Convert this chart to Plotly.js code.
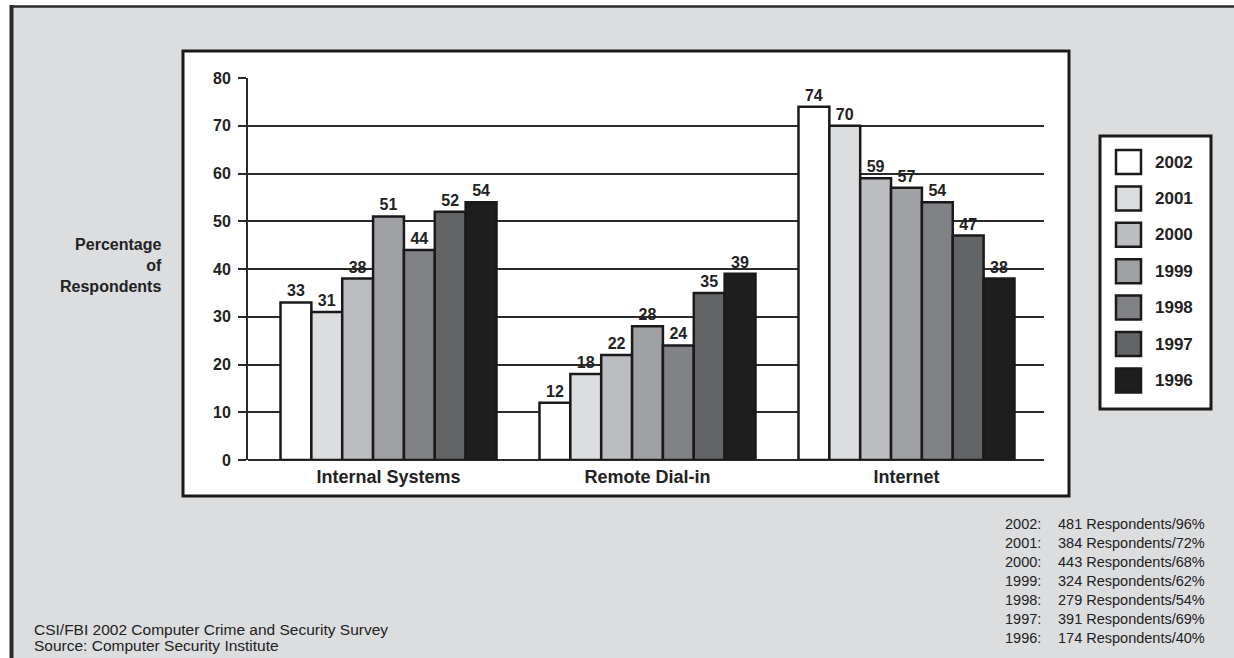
<!DOCTYPE html>
<html>
<head>
<meta charset="utf-8">
<script src="https://cdn.plot.ly/plotly-3.0.1.min.js"></script>
<style>
  html, body { margin: 0; padding: 0; background: #ffffff; }
  #chart { width: 1234px; height: 658px; }
</style>
</head>
<body>
<div id="chart"></div>
<script>
// Attack sources reported in the CSI/FBI survey, by year (percentage of respondents)
const categories = ['Internal Systems', 'Remote Dial-in', 'Internet'];
const years = ['2002', '2001', '2000', '1999', '1998', '1997', '1996'];
const values2002 = [33, 12, 74];
const values2001 = [31, 18, 70];
const values2000 = [38, 22, 59];
const values1999 = [51, 28, 57];
const values1998 = [44, 24, 54];
const values1997 = [52, 35, 47];
const values1996 = [54, 39, 38];
const seriesValues = [values2002, values2001, values2000, values1999, values1998, values1997, values1996];
const yearColors = ['#ffffff', '#dcdddf', '#bcbdc0', '#a0a1a4', '#818285', '#636466', '#1e1e1e'];
const yTicks = [0, 10, 20, 30, 40, 50, 60, 70, 80];

// Respondent counts per survey year
const respondentYears = ['2002:', '2001:', '2000:', '1999:', '1998:', '1997:', '1996:'];
const respondentCounts = [481, 384, 443, 324, 279, 391, 174];
const respondentShares = ['96%', '72%', '68%', '62%', '54%', '69%', '40%'];

const FONT = 'Liberation Sans, Arial, Helvetica, sans-serif';
const INK = '#222222';
const LINE = '#2a2a2a';

// Plot-area geometry in page pixels, used to place framing shapes in paper space
const W = 1234, H = 658;
const M = { l: 248, r: 190, t: 78, b: 198 };
const PW = W - M.l - M.r, PH = H - M.t - M.b;
const px = v => (v - M.l) / PW;
const py = v => (H - M.b - v) / PH;

const traces = years.map((yr, i) => ({
  type: 'bar',
  name: yr,
  x: categories,
  y: seriesValues[i],
  marker: { color: yearColors[i], line: { color: '#1a1a1a', width: 2.5 } },
  texttemplate: '%{y}',
  textposition: 'outside',
  constraintext: 'none',
  cliponaxis: false,
  textfont: { family: FONT, size: 16, color: INK, weight: 'bold' },
  hoverinfo: 'x+y+name'
}));

const shapes = [
  // grey page background with dark left/top frame
  { type: 'rect', xref: 'paper', yref: 'paper', layer: 'below',
    x0: px(10), x1: px(1250), y0: py(6), y1: py(680),
    fillcolor: '#dcdddf', line: { width: 0 } },
  { type: 'line', xref: 'paper', yref: 'paper', layer: 'below',
    x0: px(11.5), x1: px(11.5), y0: py(5), y1: py(680),
    line: { color: LINE, width: 4 } },
  { type: 'line', xref: 'paper', yref: 'paper', layer: 'below',
    x0: px(10), x1: px(1250), y0: py(6.5), y1: py(6.5),
    line: { color: LINE, width: 2.5 } },
  // white chart panel
  { type: 'rect', xref: 'paper', yref: 'paper', layer: 'below',
    x0: px(183), x1: px(1069), y0: py(51), y1: py(496),
    fillcolor: '#ffffff', line: { color: '#1a1a1a', width: 3 } },
  // legend box
  { type: 'rect', xref: 'paper', yref: 'paper', layer: 'below',
    x0: px(1100), x1: px(1211), y0: py(136), y1: py(409),
    fillcolor: '#ffffff', line: { color: '#1a1a1a', width: 3 } }
];

const annotations = [];

// legend swatches and labels
years.forEach((yr, i) => {
  const cy = 162 + i * 36.4;
  shapes.push({
    type: 'rect', xref: 'paper', yref: 'paper', layer: 'below',
    x0: px(1116), x1: px(1141), y0: py(cy - 12), y1: py(cy + 12),
    fillcolor: yearColors[i], line: { color: '#1a1a1a', width: 2.5 }
  });
  annotations.push({
    xref: 'paper', yref: 'paper', x: px(1153), y: py(cy),
    xanchor: 'left', yanchor: 'middle', showarrow: false,
    text: yr, font: { family: FONT, size: 17, color: INK, weight: 'bold' }
  });
});

// y-axis title, right aligned beside the panel
annotations.push({
  xref: 'paper', yref: 'paper', x: px(164), y: py(265),
  xanchor: 'right', yanchor: 'middle', align: 'right', showarrow: false,
  text: 'Percentage<br>of<br>Respondents',
  font: { family: FONT, size: 16, color: INK, weight: 'bold' }
});

// respondent notes
respondentYears.forEach((yr, i) => {
  const cy = 524 + i * 19;
  annotations.push({
    xref: 'paper', yref: 'paper', x: px(1003), y: py(cy),
    xanchor: 'left', yanchor: 'middle', showarrow: false,
    text: yr, font: { family: FONT, size: 14.5, color: INK }
  });
  annotations.push({
    xref: 'paper', yref: 'paper', x: px(1056), y: py(cy),
    xanchor: 'left', yanchor: 'middle', showarrow: false,
    text: respondentCounts[i] + ' Respondents/' + respondentShares[i],
    font: { family: FONT, size: 14.5, color: INK }
  });
});

// source footer
annotations.push({
  xref: 'paper', yref: 'paper', x: px(32), y: py(629),
  xanchor: 'left', yanchor: 'middle', showarrow: false,
  text: 'CSI/FBI 2002 Computer Crime and Security Survey',
  font: { family: FONT, size: 15.5, color: INK }
});
annotations.push({
  xref: 'paper', yref: 'paper', x: px(32), y: py(645),
  xanchor: 'left', yanchor: 'middle', showarrow: false,
  text: 'Source: Computer Security Institute',
  font: { family: FONT, size: 15.5, color: INK }
});

const layout = {
  width: W, height: H,
  margin: M,
  paper_bgcolor: '#ffffff',
  plot_bgcolor: 'rgba(0,0,0,0)',
  showlegend: false,
  barmode: 'group',
  bargap: 0.166,
  bargroupgap: 0,
  font: { family: FONT, color: INK },
  xaxis: {
    type: 'category',
    range: [-0.5425, 2.531],
    showgrid: false, zeroline: false, showline: false,
    ticks: '',
    ticklabelstandoff: 4,
    tickfont: { family: FONT, size: 18, color: INK, weight: 'bold' },
    fixedrange: true
  },
  yaxis: {
    range: [0, 80],
    tickmode: 'array', tickvals: yTicks, ticktext: yTicks.map(String),
    ticks: 'outside', ticklen: 8, tickwidth: 2, tickcolor: LINE,
    showgrid: true, gridcolor: LINE, gridwidth: 2,
    zeroline: true, zerolinecolor: LINE, zerolinewidth: 2.5,
    showline: true, linecolor: LINE, linewidth: 2,
    ticklabelstandoff: 4,
    tickfont: { family: FONT, size: 16, color: INK, weight: 'bold' },
    fixedrange: true
  },
  shapes: shapes,
  annotations: annotations
};

Plotly.newPlot('chart', traces, layout, { displayModeBar: false, staticPlot: true });
</script>
</body>
</html>
